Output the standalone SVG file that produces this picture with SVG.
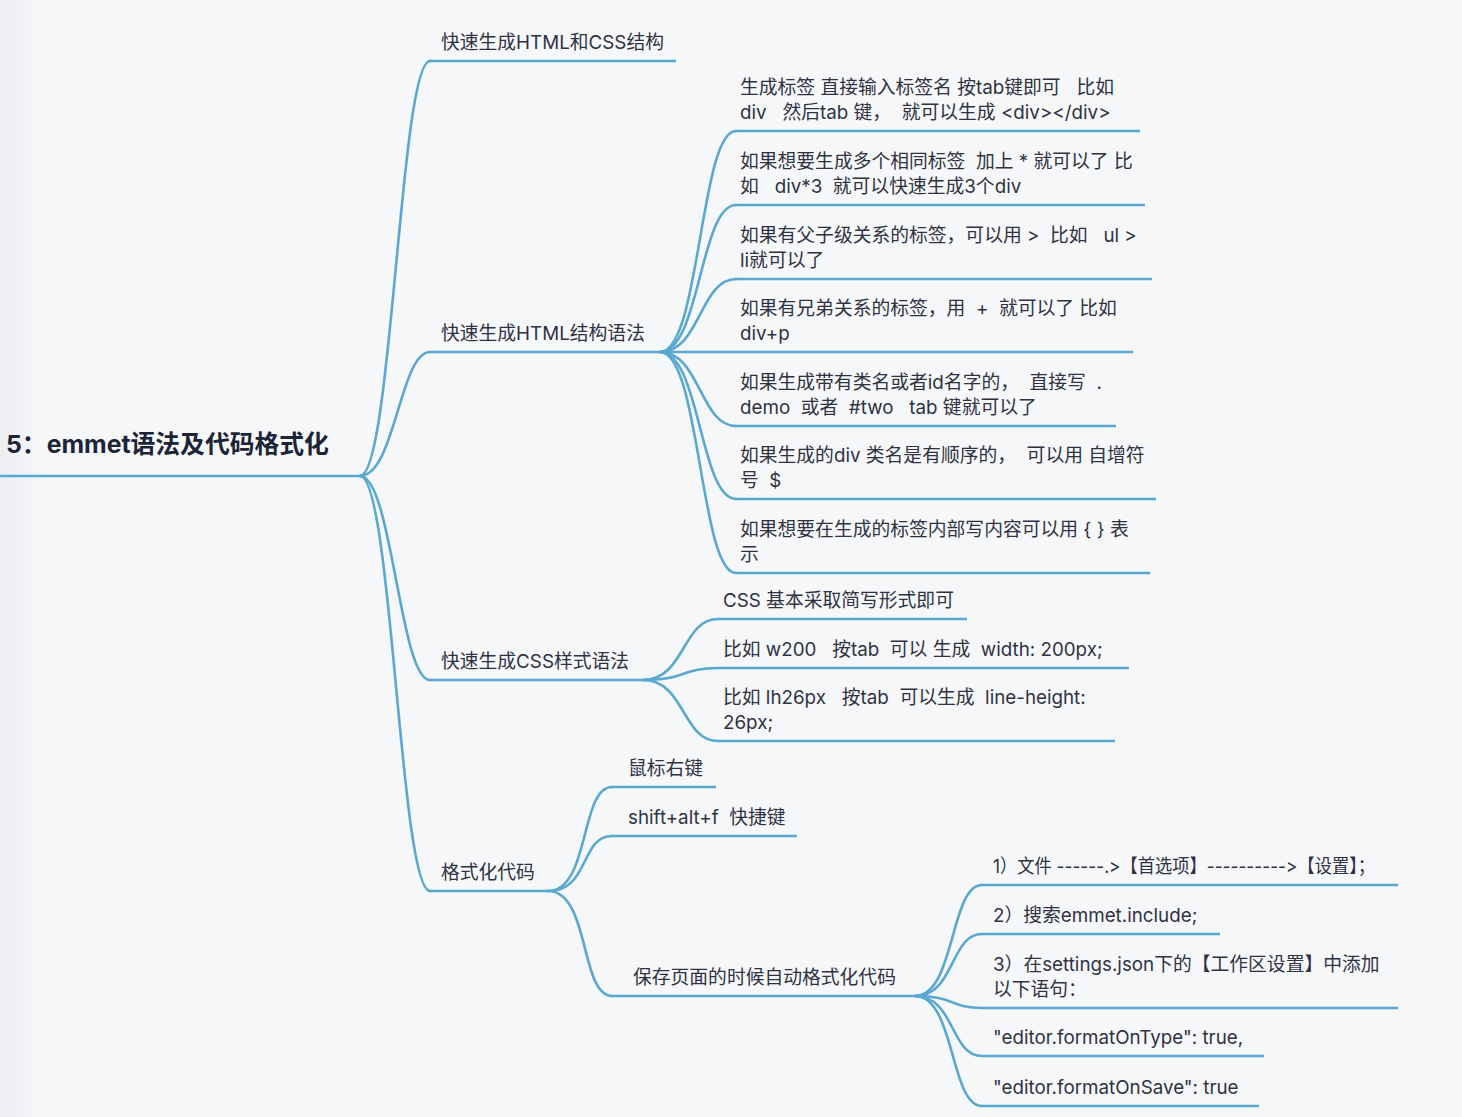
<svg xmlns="http://www.w3.org/2000/svg" width="1462" height="1117" viewBox="0 0 1462 1117" xml:space="preserve">
<defs>
<linearGradient id="bg" x1="0" y1="0" x2="1" y2="0">
<stop offset="0" stop-color="#eceef2"/>
<stop offset="0.03" stop-color="#f6f7f9"/>
<stop offset="1" stop-color="#f6f7f9"/>
</linearGradient>
<style>
.ln{fill:none;stroke:#5aa8cf;stroke-width:2.6;stroke-linecap:round}
.ul{fill:none;stroke:#5aa8cf;stroke-width:2.6;stroke-linecap:butt}
.t{font-family:"Inter","Noto Sans CJK SC",sans-serif;font-size:18.8px;fill:#2f3242;white-space:pre;font-variant-ligatures:none;font-feature-settings:"calt" 0,"liga" 0}
.root{font-family:"Inter","Noto Sans CJK SC",sans-serif;font-size:24.8px;font-weight:bold;fill:#1c2437;white-space:pre}
</style>
</defs>
<rect width="1462" height="1117" fill="url(#bg)"/>
<g id="connectors">
<path class="ln" d="M360,476 C392,476 400,61 430,61"/>
<path class="ln" d="M360,476 C395,476 400,352 430,352"/>
<path class="ln" d="M360,476 C392,476 400,680 430,680"/>
<path class="ln" d="M360,476 C392,476 400,891 430,891"/>
<path class="ln" d="M660,352 C700,352 700,131 736,131"/>
<path class="ln" d="M660,352 C700,352 700,205 736,205"/>
<path class="ln" d="M660,352 C700,352 700,279 736,279"/>
<path class="ln" d="M660,352 L736,352"/>
<path class="ln" d="M660,352 C700,352 700,426 736,426"/>
<path class="ln" d="M660,352 C700,352 700,499 736,499"/>
<path class="ln" d="M660,352 C700,352 700,573 736,573"/>
<path class="ln" d="M643,680 C685,680 682,619 718,619"/>
<path class="ln" d="M643,680 C685,680 682,668 718,668"/>
<path class="ln" d="M643,680 C685,680 682,741 718,741"/>
<path class="ln" d="M548,891 C590,891 580,787 612,787"/>
<path class="ln" d="M548,891 C590,891 580,836 612,836"/>
<path class="ln" d="M548,891 C590,891 580,996 612,996"/>
<path class="ln" d="M915,996 C955,996 950,885 982,885"/>
<path class="ln" d="M915,996 C955,996 950,934 982,934"/>
<path class="ln" d="M915,996 C955,996 950,1008 982,1008"/>
<path class="ln" d="M915,996 C955,996 950,1056 982,1056"/>
<path class="ln" d="M915,996 C955,996 950,1106 982,1106"/>
</g>
<g id="root">
<line class="ul" x1="0" y1="476" x2="361" y2="476"/>
<text class="root" x="6" y="453">5：emmet语法及代码格式化</text>
</g>
<g id="n1">
<line class="ul" x1="429" y1="61" x2="676" y2="61"/>
<text class="t" x="441" y="48.5">快速生成HTML和CSS结构</text>
</g>
<g id="n2">
<line class="ul" x1="429" y1="352" x2="661" y2="352"/>
<text class="t" x="441" y="339.5">快速生成HTML结构语法</text>
</g>
<g id="n2c1">
<line class="ul" x1="735" y1="131" x2="1140" y2="131"/>
<text class="t" x="740" y="94">生成标签 直接输入标签名 按tab键即可   比如</text>
<text class="t" x="740" y="118.5">div   然后tab 键，  就可以生成 &lt;div&gt;&lt;/div&gt;</text>
</g>
<g id="n2c2">
<line class="ul" x1="735" y1="205" x2="1145" y2="205"/>
<text class="t" x="740" y="168">如果想要生成多个相同标签  加上 * 就可以了 比</text>
<text class="t" x="740" y="192.5">如   div*3  就可以快速生成3个div</text>
</g>
<g id="n2c3">
<line class="ul" x1="735" y1="279" x2="1152" y2="279"/>
<text class="t" x="740" y="242">如果有父子级关系的标签，可以用 &gt;  比如   ul &gt;</text>
<text class="t" x="740" y="266.5">li就可以了</text>
</g>
<g id="n2c4">
<line class="ul" x1="735" y1="352" x2="1133" y2="352"/>
<text class="t" x="740" y="315">如果有兄弟关系的标签，用  +  就可以了 比如</text>
<text class="t" x="740" y="339.5">div+p</text>
</g>
<g id="n2c5">
<line class="ul" x1="735" y1="426" x2="1116" y2="426"/>
<text class="t" x="740" y="389">如果生成带有类名或者id名字的，  直接写  .</text>
<text class="t" x="740" y="413.5">demo  或者  #two   tab 键就可以了</text>
</g>
<g id="n2c6">
<line class="ul" x1="735" y1="499" x2="1156" y2="499"/>
<text class="t" x="740" y="462">如果生成的div 类名是有顺序的，  可以用 自增符</text>
<text class="t" x="740" y="486.5">号  $</text>
</g>
<g id="n2c7">
<line class="ul" x1="735" y1="573" x2="1150" y2="573"/>
<text class="t" x="740" y="536">如果想要在生成的标签内部写内容可以用 { } 表</text>
<text class="t" x="740" y="560.5">示</text>
</g>
<g id="n3">
<line class="ul" x1="429" y1="680" x2="644" y2="680"/>
<text class="t" x="441" y="667.5">快速生成CSS样式语法</text>
</g>
<g id="n3c1">
<line class="ul" x1="717" y1="619" x2="967" y2="619"/>
<text class="t" x="723" y="606.5">CSS 基本采取简写形式即可</text>
</g>
<g id="n3c2">
<line class="ul" x1="717" y1="668" x2="1129" y2="668"/>
<text class="t" x="723" y="655.5">比如 w200   按tab  可以 生成  width: 200px;</text>
</g>
<g id="n3c3">
<line class="ul" x1="717" y1="741" x2="1115" y2="741"/>
<text class="t" x="723" y="704">比如 lh26px   按tab  可以生成  line-height:</text>
<text class="t" x="723" y="728.5">26px;</text>
</g>
<g id="n4">
<line class="ul" x1="429" y1="891" x2="549" y2="891"/>
<text class="t" x="441" y="878.5">格式化代码</text>
</g>
<g id="n4c1">
<line class="ul" x1="611" y1="787" x2="716" y2="787"/>
<text class="t" x="628" y="774.5">鼠标右键</text>
</g>
<g id="n4c2">
<line class="ul" x1="611" y1="836" x2="797" y2="836"/>
<text class="t" x="628" y="823.5">shift+alt+f  快捷键</text>
</g>
<g id="n4c3">
<line class="ul" x1="611" y1="996" x2="916" y2="996"/>
<text class="t" x="633" y="983.5">保存页面的时候自动格式化代码</text>
</g>
<g id="n4c3a">
<line class="ul" x1="981" y1="885" x2="1398" y2="885"/>
<text class="t" x="993" y="872.5" textLength="382" lengthAdjust="spacingAndGlyphs">1）文件 ------.&gt;【首选项】----------&gt;【设置】；</text>
</g>
<g id="n4c3b">
<line class="ul" x1="981" y1="934" x2="1220" y2="934"/>
<text class="t" x="993" y="921.5">2）搜索emmet.include;</text>
</g>
<g id="n4c3c">
<line class="ul" x1="981" y1="1008" x2="1398" y2="1008"/>
<text class="t" x="993" y="971">3）在settings.json下的【工作区设置】中添加</text>
<text class="t" x="993" y="995.5">以下语句：</text>
</g>
<g id="n4c3d">
<line class="ul" x1="981" y1="1056" x2="1264" y2="1056"/>
<text class="t" x="993" y="1043.5">"editor.formatOnType": true,</text>
</g>
<g id="n4c3e">
<line class="ul" x1="981" y1="1106" x2="1259" y2="1106"/>
<text class="t" x="993" y="1093.5">"editor.formatOnSave": true</text>
</g>
</svg>
